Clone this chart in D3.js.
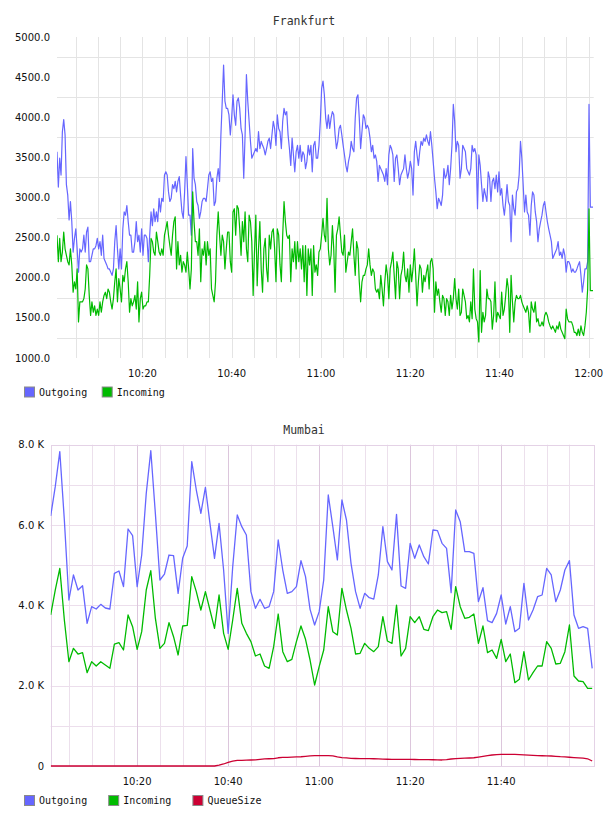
<!DOCTYPE html>
<html>
<head>
<meta charset="utf-8">
<script src="https://cdn.jsdelivr.net/npm/d3@7"></script>
<style>
  body { margin: 0; background: #fff; }
  svg { display: block; }
</style>
</head>
<body>
<script>
// Frankfurt: samples roughly every 18 s between 10:00:51 and 12:00:58
const fraOutgoing = [
  3570,3130,3490,3280,3820,3970,3780,3160,3030,2720,2950,2700,2320,2490,2610,2360,2070,2360,2320,2360,
  2530,2320,2570,2630,2200,2200,2280,2360,2360,2400,2490,2360,2450,2280,2530,2240,2200,2160,2110,2110,
  2070,2030,2110,2450,2650,2360,2110,2360,2110,2610,2820,2780,2900,2700,2530,2530,2320,2320,2450,2700,
  2450,2530,2320,2610,2280,2530,2530,2490,2200,2530,2820,2650,2860,2700,2820,2700,2990,2820,2990,2950,
  3280,3320,3280,3070,2950,2990,3160,3110,3200,3070,3200,3260,3030,2820,2740,3070,3510,3160,2780,2780,2530,
  3610,3240,3160,2950,2900,2740,2820,2950,2990,2990,2950,3110,3280,3320,3200,3240,2900,2950,3240,3360,
  3200,3780,4200,4650,4200,4110,4110,4030,3780,3990,4280,4030,3900,4200,4240,4110,3860,3780,3240,3780,
  4530,4200,3950,3700,3490,3530,3570,3610,3570,3820,3610,3700,3650,3610,3530,3610,3700,3740,3610,3780,
  3950,3860,3650,4030,3860,3820,3610,3950,4110,4030,4070,3780,3610,3400,3740,3530,3320,3570,3650,3490,
  3650,3450,3570,3530,3360,3450,3650,3530,3650,3320,3650,3700,3490,3490,3650,3950,4360,4450,4280,3990,3860,
  4030,3860,3990,4070,4030,3780,3610,3700,3860,3900,3780,3650,3530,3400,3320,3450,3530,3700,3610,3570,
  3990,4240,4280,3990,3610,3820,4030,3990,3860,3900,3860,3740,3570,3650,3490,3530,3450,3200,3400,3360,
  3320,3280,3200,3360,3160,3530,3650,3610,3530,3200,3490,3530,3360,3160,3280,3320,3360,3530,3360,3240,
  3320,3450,3360,3030,3570,3700,3530,3400,3570,3700,3650,3740,3700,3780,3700,3650,3820,3650,3450,3240,
  3070,2860,2990,2950,2900,3030,3360,3240,3280,3400,3160,3360,3650,4160,3950,3570,3700,3650,3240,3360,3650,
  3610,3570,3360,3320,3280,3360,3650,3570,3610,3530,2860,3530,3400,3160,2950,3110,3030,2950,3320,3240,
  2950,3200,3240,3110,3280,3070,3320,3030,3110,2900,2780,2950,3160,2950,2900,2450,3030,2860,2780,3070,
  3110,3280,3700,3490,3160,2820,3030,2820,2780,2530,2900,3070,3030,2820,2700,2450,2610,2700,2780,2900,
  2950,2820,2700,2610,2530,2450,2240,2280,2320,2360,2450,2280,2320,2240,2360,2280,2070,2200,2200,2160,
  2070,2110,2070,2070,2110,2160,2200,2030,1820,1950,2110,2110,2200,4160,2880,2880,2880
];
const fraIncoming = [
  2530,2200,2490,2200,2320,2570,2360,2280,2200,2160,2360,2160,1820,1950,1860,2110,1450,1700,1700,1700,
  1740,1860,2160,2110,1780,1530,1700,1570,1650,1530,1610,1530,1700,1570,1700,1780,1820,1740,1860,1820,
  1700,1610,1740,1950,2110,1700,1990,1860,1700,2030,1950,2110,2200,1950,1570,1740,1650,1700,1780,1610,
  1950,1450,1740,1820,1610,1650,1650,1700,1700,2030,2490,2450,2320,2280,2570,2450,2320,2280,2360,2280,
  2530,2610,2700,2530,2400,2280,2530,2700,2760,2110,2450,2160,2280,2070,2200,2160,2070,2320,2110,1860,2110,
  3070,2700,2450,2450,2280,2610,1950,2360,2280,2450,2160,2450,2280,2360,1860,1780,1700,1950,2530,2820,
  2530,2280,2530,2450,2110,2360,2570,2570,2200,2070,2820,2860,2530,2900,2860,2610,2280,2700,2450,2820,
  2360,2200,2780,2700,2450,1780,2320,2780,1900,2360,2700,2110,1820,2360,2490,2110,1950,2530,2360,2570,
  2610,2360,1950,2610,2530,2160,1950,2530,2950,2700,2530,2490,2530,1950,2360,2200,2450,2110,2450,2200,
  2360,2110,2400,1950,2400,1780,2360,2160,2360,1780,2400,2070,2160,2030,2320,2360,2530,2740,2530,2450,2990,
  2360,2160,2280,2650,2360,1820,2530,2610,2760,2530,2320,2280,2530,2070,2200,2320,2280,2450,2610,2280,
  2030,2450,2360,1950,1700,1950,2030,2030,2110,2160,2360,2160,2030,2110,2070,1860,1820,1860,1740,2030,
  1860,1650,1950,2160,2030,1740,2110,2200,2320,2030,1740,2200,2110,1740,2030,2110,2320,2030,1950,2110,
  1820,2160,1950,2110,2360,2030,1650,1950,2160,2110,1820,2030,1950,2070,2160,1860,2200,2240,2110,1570,
  1950,1780,1860,1700,1570,1780,1740,1530,1740,1700,1530,1780,1610,1740,1990,1740,1610,1860,1530,1570,1860,
  1780,1700,1490,1530,1450,1700,1490,2110,1610,1490,1450,1200,2090,1320,1570,1450,1530,1860,1740,1740,
  1700,1360,1530,1950,1450,1570,1530,1490,1820,1530,1610,1780,1990,1860,1320,2030,1700,1450,1700,1780,
  1740,1740,1780,1700,1650,1610,1570,1650,1570,1320,1700,1610,1570,1700,1450,1490,1400,1400,1450,1400,
  1530,1570,1530,1450,1400,1360,1400,1360,1320,1400,1360,1450,1360,1320,1280,1240,1610,1490,1450,1450,
  1450,1400,1320,1320,1280,1360,1280,1400,1320,1280,1400,1570,1860,2860,1840,1840,1840
];

// Mumbai: one sample per minute from 10:01 to 12:00
const mumOutgoing = [
  6225,6955,7827,6125,4133,4756,4382,4490,3552,3967,3909,4025,3934,3909,4797,4855,4465,5901,5735,4465,
  5253,6789,7851,6291,4631,4780,5253,5237,4299,5171,5478,7578,6872,6291,6938,6042,5171,6042,4880,3303,
  4963,6250,5959,5751,4341,3926,4150,3926,3967,4341,5627,4880,4299,4341,4465,5113,4714,3900,3511,3843,
  4631,6748,5959,5130,6623,6125,5046,4341,3926,4299,4191,4158,4756,5959,5088,4880,6266,4482,4424,5544,
  5171,5503,5212,5030,5876,5860,5544,5420,4316,6374,6084,5337,5337,5295,4092,4440,3618,3569,3801,4258,
  3536,3967,3345,3428,4548,3635,3884,4216,4258,4922,4756,4092,4382,4880,5113,3760,3428,3469,3428,2432
];
const mumIncoming = [
  3760,4380,4921,3635,2597,2930,2788,2822,2324,2597,2490,2597,2515,2432,3037,3071,2888,3760,3469,2905,
  3345,4382,4863,3680,2930,3054,3569,3220,2764,3486,3502,4714,4341,3884,4341,3884,3428,4258,3303,2905,
  3635,4424,3552,3303,3096,2739,2789,2490,2432,2971,3784,2847,2597,2656,3096,3486,3154,2639,2017,2473,
  2888,3967,3345,3262,4424,3884,3428,2789,2805,3054,2930,2847,2971,3718,3112,3054,4008,2739,2930,3718,
  3569,3718,3403,3370,3718,3884,3818,3843,3403,4465,3967,3677,3702,3784,3054,3486,2822,2888,2681,3154,
  2597,2789,2075,2158,2847,2141,2324,2490,2490,3096,2930,2540,2556,2847,3511,2241,2116,2100,1934,1934
];
const mumQueueSize = [
  0,0,0,0,0,0,0,0,0,0,0,0,0,0,0,0,0,0,0,0,
  0,0,0,0,0,0,0,0,0,0,0,0,0,0,0,0,0,20,50,90,
  120,140,140,145,150,155,165,175,180,185,205,215,215,220,225,230,240,250,257,257,
  257,257,250,225,208,200,191,187,183,183,183,180,176,172,168,166,166,166,166,166,
  162,160,158,158,156,152,150,160,174,183,190,195,199,205,222,240,260,274,285,291,
  291,291,287,282,278,270,264,258,255,252,249,242,232,225,218,210,203,195,180,125
];

const fraYLabels = [1000, 1500, 2000, 2500, 3000, 3500, 4000, 4500, 5000];
const fraXLabels = ["10:20", "10:40", "11:00", "11:20", "11:40", "12:00"];
const mumYLabels = [0, 2000, 4000, 6000, 8000];
const mumXLabels = ["10:20", "10:40", "11:00", "11:20", "11:40"];

const seriesNames = ["Outgoing", "Incoming", "QueueSize"];
const seriesColors = ["#6666ff", "#00bb00", "#cc0033"];

const day = (h, m, s) => new Date(2014, 0, 1, h, m, s || 0);
const hm = str => { const [h, m] = str.split(':').map(Number); return day(h, m); };

// evenly spaced sample times between first and last timestamp
function timed(values, t0, t1) {
  const step = (t1 - t0) / (values.length - 1);
  return values.map((v, i) => ({t: new Date(+t0 + i * step), v: v}));
}

const svg = d3.select('body').append('svg')
  .attr('width', 608)
  .attr('height', 816)
  .style('font-family', 'DejaVu Sans, sans-serif');

svg.append('rect').attr('width', 608).attr('height', 816).attr('fill', '#fff');

function legend(y, names, gap) {
  const g = svg.append('g').attr('transform', `translate(24,${y})`);
  const item = g.selectAll('g').data(names).join('g')
    .attr('transform', (d, i) => `translate(${i * gap},0)`);
  item.append('rect')
    .attr('x', 0.5).attr('y', 0.5).attr('width', 10).attr('height', 10)
    .attr('fill', (d, i) => seriesColors[i])
    .attr('stroke', '#8a8a8a');
  item.append('text')
    .attr('x', 15).attr('y', 9)
    .style('font-family', 'DejaVu Sans Mono, monospace')
    .style('font-size', '10px')
    .attr('fill', '#111')
    .text(d => d);
}

function title(txt, y) {
  svg.append('text')
    .attr('x', 304).attr('y', y)
    .attr('text-anchor', 'middle')
    .style('font-family', 'DejaVu Sans Mono, monospace')
    .style('font-size', '11.5px')
    .attr('fill', '#333')
    .text(txt);
}

/* ---------- Frankfurt ---------- */
{
  const left = 57, right = 593.7, top = 37, bottom = 358;
  const x = d3.scaleTime().domain([day(10, 0, 51), day(12, 1, 7)]).range([left, right]);
  const y = d3.scaleLinear().domain([1000, 5000]).range([bottom, top]);

  title('Frankfurt', 25);

  const grid = svg.append('g').attr('stroke', '#e4e4e4').attr('stroke-width', 1);
  grid.selectAll('line.v')
    .data(d3.timeMinute.every(5).range(day(10, 5), day(12, 1)))
    .join('line').attr('class', 'v')
    .attr('x1', d => Math.round(x(d)) + 0.5).attr('x2', d => Math.round(x(d)) + 0.5)
    .attr('y1', top).attr('y2', bottom);
  grid.selectAll('line.h')
    .data(d3.range(1250, 5000, 500))
    .join('line').attr('class', 'h')
    .attr('x1', left).attr('x2', right)
    .attr('y1', d => Math.round(y(d)) + 0.5).attr('y2', d => Math.round(y(d)) + 0.5);

  svg.append('g').selectAll('text')
    .data(fraYLabels)
    .join('text')
    .attr('x', 50).attr('y', d => y(d)).attr('dy', '0.35em')
    .attr('text-anchor', 'end')
    .style('font-size', '10px').attr('fill', '#111')
    .text(d3.format('.1f'));

  svg.append('g').selectAll('text')
    .data(fraXLabels)
    .join('text')
    .attr('x', d => x(hm(d))).attr('y', 377)
    .attr('text-anchor', 'middle')
    .style('font-size', '10px').attr('fill', '#111')
    .text(d => d);

  svg.append('clipPath').attr('id', 'clipF')
    .append('rect').attr('x', left).attr('y', 0).attr('width', right - left).attr('height', bottom);

  const line = d3.line().x(d => x(d.t)).y(d => y(d.v));
  const g = svg.append('g').attr('clip-path', 'url(#clipF)').attr('fill', 'none')
    .attr('stroke-width', 1.2).attr('stroke-linejoin', 'round');
  g.append('path').attr('stroke', seriesColors[0])
    .attr('d', line(timed(fraOutgoing, day(10, 0, 51), day(12, 0, 58))));
  g.append('path').attr('stroke', seriesColors[1])
    .attr('d', line(timed(fraIncoming, day(10, 0, 51), day(12, 0, 58))));

  legend(386.5, seriesNames.slice(0, 2), 77.7);
}

/* ---------- Mumbai ---------- */
{
  const left = 50.7, right = 593.7, top = 444.7, bottom = 766;
  const x = d3.scaleTime().domain([day(10, 1), day(12, 0, 20)]).range([left, right]);
  const y = d3.scaleLinear().domain([0, 8000]).range([bottom, top]);

  title('Mumbai', 433.5);

  const minutes = d3.timeMinute.every(5).range(day(10, 5), day(11, 56));
  const grid = svg.append('g').attr('stroke-width', 1);
  grid.selectAll('line.h')
    .data(d3.range(1000, 8000, 1000))
    .join('line').attr('class', 'h')
    .attr('stroke', '#ecdeec')
    .attr('x1', left).attr('x2', right)
    .attr('y1', d => Math.round(y(d)) + 0.5).attr('y2', d => Math.round(y(d)) + 0.5);
  grid.selectAll('line.v')
    .data(minutes)
    .join('line').attr('class', 'v')
    .attr('stroke', d => d.getMinutes() % 20 === 0 ? '#dcc6dc' : '#ece0ec')
    .attr('x1', d => Math.round(x(d)) + 0.5).attr('x2', d => Math.round(x(d)) + 0.5)
    .attr('y1', top).attr('y2', bottom);
  grid.append('rect')
    .attr('x', Math.round(left) + 0.5).attr('y', Math.round(top) + 0.5)
    .attr('width', Math.round(right - left)).attr('height', Math.round(bottom - top))
    .attr('fill', 'none').attr('stroke', '#e4d2e6');

  svg.append('g').selectAll('text')
    .data(mumYLabels)
    .join('text')
    .attr('x', 44).attr('y', d => y(d)).attr('dy', '0.35em')
    .attr('text-anchor', 'end')
    .style('font-size', '10px').attr('fill', '#111')
    .text(d => d === 0 ? '0' : d3.format('.1f')(d / 1000) + ' K');

  svg.append('g').selectAll('text')
    .data(mumXLabels)
    .join('text')
    .attr('x', d => x(hm(d))).attr('y', 785)
    .attr('text-anchor', 'middle')
    .style('font-size', '10px').attr('fill', '#111')
    .text(d => d);

  svg.append('clipPath').attr('id', 'clipM')
    .append('rect').attr('x', left).attr('y', top - 10).attr('width', right - left).attr('height', bottom - top + 12);

  const line = d3.line().x(d => x(d.t)).y(d => y(d.v));
  const g = svg.append('g').attr('clip-path', 'url(#clipM)').attr('fill', 'none')
    .attr('stroke-width', 1.3).attr('stroke-linejoin', 'round');
  [mumOutgoing, mumIncoming, mumQueueSize].forEach((vals, i) => {
    g.append('path').attr('stroke', seriesColors[i])
      .attr('d', line(timed(vals, day(10, 1), day(12, 0))));
  });

  legend(795, seriesNames, 84.2);
}
</script>
</body>
</html>
